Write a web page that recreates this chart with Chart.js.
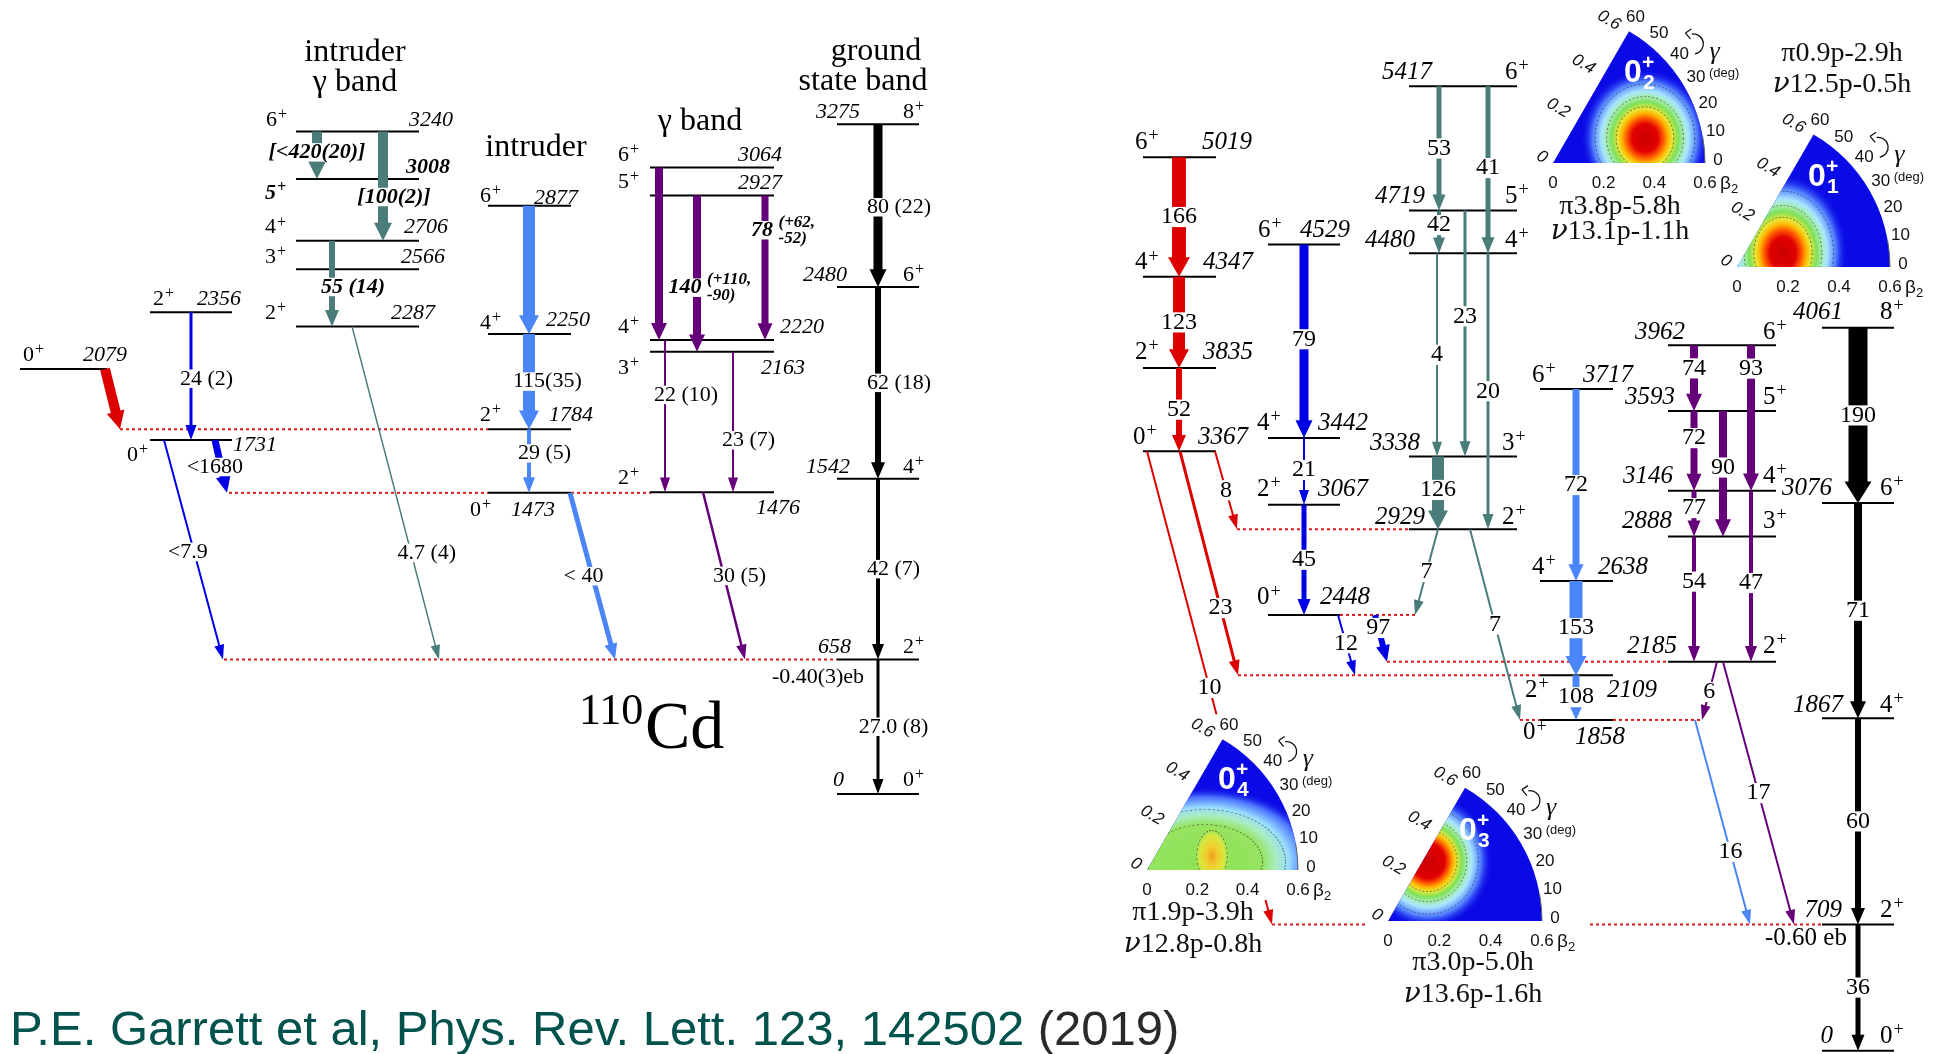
<!DOCTYPE html>
<html><head><meta charset="utf-8"><title>110Cd / 112Cd level schemes</title>
<script src="https://cdn.jsdelivr.net/npm/chart.js"></script>
<style>html,body{margin:0;padding:0;background:#fff;overflow:hidden}#c{display:block}</style>
</head><body>
<canvas id="c" width="1953" height="1054"></canvas>
<script>
// ================= DATA =================
// ---- 110Cd ----
const levelE110 = [2079,2356,1731,3240,3008,2706,2566,2287,2877,2250,1784,1473,3064,2927,2220,2163,1476,3275,2480,1542,658,0];
const levelJ110 = ['0+','2+','0+','6+','5+','4+','3+','2+','6+','4+','2+','0+','6+','5+','4+','3+','2+','8+','6+','4+','2+','0+'];
const levelBand110 = ['a','b','b','igb','igb','igb','igb','igb','int','int','int','int','gam','gam','gam','gam','gam','gsb','gsb','gsb','gsb','gsb'];
const from110 = [2079,2356,1731,1731,3240,3240,2706,2287,2877,2250,1784,1473,3064,2927,2927,2220,2163,1476,3275,2480,1542,658];
const to110   = [1784,1731,1473,658,3008,2706,2287,658,2250,1784,1473,658,2220,2163,2220,1476,1476,658,2480,1542,658,0];
const be2_110 = ['','24 (2)','<1680','<7.9','[<420(20)]','[100(2)]','55 (14)','4.7 (4)','','115(35)','29 (5)','< 40','','140 (+110,\n-90)','78 (+62,\n-52)','22 (10)','23 (7)','30 (5)','80 (22)','62 (18)','42 (7)','27.0 (8)'];
const dotE110 = [1784,1473,1473,658];
const qMom110 = '-0.40(3)eb';
const titles110 = ['intruder','γ band','intruder','γ band','ground','state band'];
const nucleus110 = ['110','Cd'];
// ---- 112Cd ----
const levelE112 = [5019,4347,3835,3367,4529,3442,3067,2448,5417,4719,4480,3338,2929,3717,2638,2109,1858,3962,3593,3146,2888,2185,4061,3076,1867,709,0];
const levelJ112 = ['6+','4+','2+','0+','6+','4+','2+','0+','6+','5+','4+','3+','2+','6+','4+','2+','0+','6+','5+','4+','3+','2+','8+','6+','4+','2+','0+'];
const levelBand112 = ['r','r','r','r','b','b','b','b','t','t','t','t','t','lb','lb','lb','lb','p','p','p','p','p','k','k','k','k','k'];
const from112 = [5019,4347,3835,3367,3367,3367,4529,3442,3067,2448,2448,5417,5417,4719,4719,4480,4480,3338,2929,2929,3717,2638,2109,1858,3962,3962,3593,3593,3146,2888,3146,2185,2185,4061,3076,1867,709];
const to112   = [4347,3835,3367,2929,2109,709,3442,3067,2448,2109,2185,4719,4480,4480,3338,3338,2929,2929,2448,1858,2638,2109,1858,709,3593,3146,3146,2888,2888,2185,2185,1858,709,3076,1867,709,0];
const be2_112 = ['166','123','52','8','23','10','79','21','45','12','97','53','41','42','23','4','20','126','7','7','72','153','108','16','74','93','72','90','77','54','47','6','17','190','71','60','36'];
const dotE112 = [2929,2448,2185,2109,1858,1858,709];
const qMom112 = '-0.60 eb';
// ---- potential energy surfaces ----
const pesStates = ['2','1','4','3'];
const pesConfig = [['π3.8p-5.8h','ν13.1p-1.1h'],['π0.9p-2.9h','ν12.5p-0.5h'],['π1.9p-3.9h','ν12.8p-0.8h'],['π3.0p-5.0h','ν13.6p-1.6h']];
const betaTicks = ['0','0.2','0.4','0.6'];
const gammaTicks = ['0','10','20','30','40','50','60'];
const citation = ['P.E. Garrett et al, Phys. Rev. Lett. 123, 142502 ','(2019)'];

// ================= LAYOUT & STYLE =================
const COL = {red:'#dd0000', blue:'#0000e6', lb:'#4a86f7', teal:'#4a7c7a', pur:'#66007a', k:'#000000'};
const DOT = '#e0191c';
const SERIF = '"Liberation Serif", "Times New Roman", serif';
const SANS = '"Liberation Sans", Arial, sans-serif';
const cols110 = {a:[20,107], b:[150,232], igb:[296,419], int:[488,571], gam:[650,774], gsb:[837,919]};
const cols112 = {r:[1143,1216], b:[1268,1340], t:[1409,1517], lb:[1540,1613], p:[1668,1776], k:[1822,1894]};
// [spin dx, spin dy, energy dx, energy dy, energy align, bold] relative to column start / level
const levLay110 = [[3,-14,107,-14,'R'],[3,-13,91,-13,'R'],[-23,15,83,5,'L'],[-30,-11,157,-11,'R'],[-31,14,154,-12,'R',1],[-31,-13,152,-13,'R'],[-31,-12,149,-12,'R'],[-31,-13,139,-13,'R'],
 [-8,-10,90,-8,'R'],[-8,-11,102,-14,'R'],[-8,-14,105,-14,'R'],[-18,17,67,17,'R'],
 [-32,-12,132,-12,'R'],[-32,-13,132,-12,'R'],[-32,-13,130,-13,'L'],[-32,16,155,16,'R'],[-32,-14,150,16,'R'],
 [66,-12,23,-12,'R'],[66,-12,10,-12,'R'],[66,-12,13,-12,'R'],[66,-12,14,-12,'R'],[66,-14,7,-14,'R']];
const levLay112 = [[-8,-15,109,-15,'R'],[-8,-14,110,-14,'R'],[-8,-16,110,-16,'R'],[-10,-14,105,-14,'R'],
 [-10,-14,82,-14,'R'],[-11,-15,100,-15,'R'],[-11,-15,100,-15,'R'],[-11,-17,102,-17,'R'],
 [96,-14,23,-14,'R'],[96,-14,16,-14,'R'],[96,-13,6,-13,'R'],[93,-13,11,-13,'R'],[93,-12,16,-12,'R'],
 [-8,-14,93,-14,'R'],[-8,-14,108,-14,'R'],[-15,15,117,15,'R'],[-17,13,85,17,'R'],
 [95,-13,17,-13,'R'],[95,-14,7,-14,'R'],[95,-14,5,-14,'R'],[95,-15,4,-15,'R'],[95,-15,9,-15,'R'],
 [58,-15,21,-15,'R'],[58,-15,10,-15,'R'],[58,-13,21,-13,'R'],[58,-14,20,-14,'R'],[58,-14,11,-14,'R']];
const trLay110 = [
 {x0:105,x1:120,w:10,c:'red'},{x0:191,w:3,c:'blue',t:.52},{x0:215,x1:227,w:7,c:'blue',t:.51},{x0:164,x1:223,w:2,c:'blue',t:.51},
 {x0:317,w:10,c:'teal',t:.44,bold:1},{x0:383,w:10,c:'teal',t:.6,bold:1,dx:11},{x0:332,w:6,c:'teal',t:.54,bold:1},{x0:352,x1:439,w:1.5,c:'teal',t:.68},
 {x0:529,w:12,c:'lb'},{x0:529,w:12,c:'lb',t:.5},{x0:529,w:4,c:'lb',t:.38},{x0:570,x1:615,w:5,c:'lb',t:.5},
 {x0:659,w:8,c:'pur'},{x0:697,w:8,c:'pur',t:.59,bold:1,dx:-12,small:1},{x0:765,w:7,c:'pur',t:.24,bold:1,dx:-3,small:1},
 {x0:665,w:2,c:'pur',t:.36},{x0:733,w:2,c:'pur',t:.63},{x0:703,x1:745,w:2.5,c:'pur',t:.5},
 {x0:878,w:9,c:'k',t:.51},{x0:878,w:6,c:'k',t:.5},{x0:878,w:4,c:'k',t:.5},{x0:878,w:3,c:'k',t:.5}];
const trLay112 = [
 {x0:1179,w:14,c:'red',t:.5},{x0:1179,w:12,c:'red',t:.5},{x0:1179,w:6,c:'red',t:.5},
 {x0:1215,x1:1237,w:2,c:'red',t:.5},{x0:1180,x1:1238,w:3,c:'red',t:.7},{x0:1147,x1:1272,w:2,c:'red',t:.5},
 {x0:1304,w:9,c:'blue',t:.49},{x0:1304,w:2,c:'blue',t:.48},{x0:1304,w:5,c:'blue',t:.5},
 {x0:1338,x1:1355,w:2,c:'blue',t:.47},{x0:1375,x1:1387,w:6,c:'blue',t:.28},
 {x0:1439,w:5,c:'teal',t:.5},{x0:1488,w:5,c:'teal',t:.49},{x0:1439,w:4,c:'teal',t:.34},{x0:1465,w:3,c:'teal',t:.43},
 {x0:1437,w:2,c:'teal',t:.5},{x0:1488,w:3,c:'teal',t:.5},{x0:1438,w:12,c:'teal',t:.46},
 {x0:1438,x1:1415,w:2,c:'teal',t:.5},{x0:1470,x1:1520,w:2,c:'teal',t:.5},
 {x0:1576,w:7,c:'lb',t:.5},{x0:1576,w:13,c:'lb',t:.5},{x0:1576,w:7,c:'lb',t:.49},{x0:1695,x1:1750,w:2,c:'lb',t:.645},
 {x0:1694,w:8,c:'pur',t:.35},{x0:1751,w:8,c:'pur',t:.16},{x0:1694,w:7,c:'pur',t:.34},{x0:1723,w:8,c:'pur',t:.45},
 {x0:1694,w:5,c:'pur',t:.38},{x0:1694,w:4,c:'pur',t:.36},{x0:1751,w:4,c:'pur',t:.54},
 {x0:1717,x1:1702,w:2,c:'pur',t:.52},{x0:1723,x1:1794,w:2,c:'pur',t:.5},
 {x0:1858,w:19,c:'k',t:.5},{x0:1858,w:8,c:'k',t:.5},{x0:1858,w:6,c:'k',t:.5},{x0:1858,w:5,c:'k',t:.5}];
const dotLay110 = [[120,488],[229,488],[571,651],[224,837]];
const dotLay112 = [[1237,1410],[1340,1415],[1387,1668],[1238,1540],[1520,1540],[1613,1702],[1272,1822]];
const titleLay = [[355,53],[355,83],[536,148],[700,122],[876,52],[863,82]];
const STOPS = {
 hot:[[0,'#cc0000'],[0.2,'#e00000'],[0.29,'#ff5a00'],[0.36,'#ffb400'],[0.43,'#e8e838'],[0.52,'#7ee05a'],[0.6,'#a6eeb0'],[0.68,'#a8e6ff'],[0.82,'#4f7cff'],[1,'rgba(10,10,230,0)']],
 hot3:[[0,'#cc0000'],[0.26,'#e00000'],[0.33,'#ff5a00'],[0.39,'#ffb400'],[0.45,'#e8e838'],[0.53,'#7ee05a'],[0.6,'#a6eeb0'],[0.68,'#a8e6ff'],[0.82,'#4f7cff'],[1,'rgba(10,10,230,0)']],
 cyan:[[0,'#b4f2ff'],[0.5,'#8cd4ff'],[1,'rgba(10,10,230,0)']],
 green:[[0,'#8ee055'],[0.5,'#96e460'],[0.62,'#a8ecc0'],[0.73,'#98dcff'],[0.87,'#4a70ff'],[1,'rgba(10,10,230,0)']],
 yellow:[[0,'#f2a020'],[0.35,'#f2d030'],[0.7,'#d6e840'],[1,'rgba(150,228,96,0)']]
};
const pesLay = [
 {ax:1553, ay:163, R:152, cfg:[1620,207,232], blobs:[{x:92,y:-25,r:64,sx:1,sy:1.08,s:'hot',c:[0.45,0.6,0.78]}]},
 {ax:1737, ay:267, R:153, cfg:[1842,54,85], blobs:[{x:14,y:-6,r:48,sx:1,sy:1,s:'cyan'},{x:46,y:-14,r:72,sx:0.9,sy:1.1,s:'hot',c:[0.45,0.6,0.78]}]},
 {ax:1147, ay:870, R:151, cfg:[1193,913,945], blobs:[{x:58,y:-8,r:100,sx:1.15,sy:0.75,s:'green',c:[0.5,0.7]},{x:65,y:-14,r:24,sx:0.75,sy:1.25,s:'yellow',c:[0.85]}]},
 {ax:1388, ay:921, R:154, cfg:[1473,963,995], blobs:[{x:40,y:-60,r:68,sx:0.95,sy:1,s:'hot3',c:[0.45,0.6,0.78]}]}
];

// ================= DATASETS =================
function levelSets(E, band, cols, axis){
  return E.map((e,i)=>({data:[{x:cols[band[i]][0],y:e},{x:cols[band[i]][1],y:e}], yAxisID:axis,
    showLine:true, borderColor:'#000', borderWidth:2, pointRadius:0, clip:false}));
}
function dotSets(E, lay, axis){
  return E.map((e,i)=>({data:[{x:lay[i][0],y:e},{x:lay[i][1],y:e}], yAxisID:axis,
    showLine:true, borderColor:DOT, borderWidth:2, borderDash:[3,3], pointRadius:0, clip:false}));
}
const datasets = [].concat(levelSets(levelE110, levelBand110, cols110, 'yL'), levelSets(levelE112, levelBand112, cols112, 'yR'),
  dotSets(dotE110, dotLay110, 'yL'), dotSets(dotE112, dotLay112, 'yR'));

// ================= DRAW HELPERS =================
function arrow(ctx,x0,y0,x1,y1,w,color){
  const dx=x1-x0, dy=y1-y0, L=Math.hypot(dx,dy), ux=dx/L, uy=dy/L, nx=-uy, ny=ux;
  const hw = w + Math.max(8, w*0.4), hl = Math.min(14 + w*0.4, L*0.8);
  const bx=x1-ux*hl, by=y1-uy*hl, h=w/2, H=hw/2;
  ctx.beginPath();
  ctx.moveTo(x0+nx*h,y0+ny*h); ctx.lineTo(bx+nx*h,by+ny*h); ctx.lineTo(bx+nx*H,by+ny*H); ctx.lineTo(x1,y1);
  ctx.lineTo(bx-nx*H,by-ny*H); ctx.lineTo(bx-nx*h,by-ny*h); ctx.lineTo(x0-nx*h,y0-ny*h); ctx.closePath();
  ctx.fillStyle=color; ctx.fill();
}
function bgText(ctx, txt, x, cy, size, align){
  const w = ctx.measureText(txt).width;
  let left = align==='center'? x-w/2 : align==='right'? x-w : x;
  ctx.fillStyle='#fff'; ctx.fillRect(left-1, cy-size*0.42, w+2, size*0.84);
  ctx.fillStyle='#000'; ctx.textAlign=align; ctx.fillText(txt, x, cy);
  return w;
}
function transLabel(ctx, label, cx, cy, size, bold, small){
  const f = (bold?'bold italic ':'') + size + 'px ' + SERIF;
  ctx.font = f; ctx.textBaseline='middle';
  const m = label.match(/^(<\s*)?(\d+(?:\.\d+)?)([\s\S]*)$/);
  if(!m){ bgText(ctx, label, cx, cy, size, 'center'); return; }
  const pre=m[1]||'', main=m[2], suf=m[3];
  const wm = ctx.measureText(main).width, left = cx - wm/2;
  if(pre) bgText(ctx, pre, left, cy, size, 'right');
  bgText(ctx, main, left, cy, size, 'left');
  if(suf.trim()){
    const gap = suf.startsWith(' ') ? ctx.measureText(' ').width : 0;
    const ss = small ? Math.round(size*0.78) : size;
    ctx.font = (bold?'bold italic ':'') + ss + 'px ' + SERIF;
    const lines = suf.trim().split('\n'), lh = ss*0.95;
    lines.forEach((ln,i)=>{ bgText(ctx, ln, left+wm+gap, cy + (i-(lines.length-1)/2)*lh, ss, 'left'); });
  }
}
function drawSpin(ctx, s, x, y, size, bold){
  const base=s.slice(0,-1), sup=s.slice(-1);
  ctx.font=(bold?'bold italic ':'')+size+'px '+SERIF; ctx.textAlign='left'; ctx.textBaseline='middle'; ctx.fillStyle='#000';
  ctx.fillText(base,x,y); const w=ctx.measureText(base).width;
  ctx.font=(bold?'bold italic ':'')+Math.round(size*0.72)+'px '+SERIF;
  ctx.fillText(sup, x+w+1, y-size*0.24);
}
function drawScheme(ctx, X, Y, from, to, lab, lay, size){
  from.forEach((f,i)=>{ const L=lay[i]; const x1 = L.x1===undefined? L.x0 : L.x1;
    arrow(ctx, X(L.x0), Y(f), X(x1), Y(to[i]), L.w, COL[L.c]); });
  from.forEach((f,i)=>{ const L=lay[i]; if(!lab[i]) return; const x1 = L.x1===undefined? L.x0 : L.x1;
    const t=L.t, cx = X(L.x0)+(X(x1)-X(L.x0))*t + (L.dx||0), cy = Y(f)+(Y(to[i])-Y(f))*t;
    transLabel(ctx, lab[i], cx, cy, size, L.bold, L.small); });
}
function drawLevelLabels(ctx, X, Y, E, J, band, cols, lay, size){
  E.forEach((e,i)=>{ const [sdx,sdy,edx,edy,al,bold]=lay[i]; const x0=X(cols[band[i]][0]), y=Y(e);
    drawSpin(ctx, J[i], x0+sdx, y+sdy, size, bold);
    ctx.font=(bold?'bold italic ':'italic ')+size+'px '+SERIF; ctx.textAlign= al==='R'?'right':'left';
    ctx.textBaseline='middle'; ctx.fillStyle='#000'; ctx.fillText(String(e), x0+edx, y+edy); });
}
function pesBackground(ctx, p){
  const {ax,ay,R}=p, H=R*Math.sin(Math.PI/3);
  ctx.fillStyle='#fff'; ctx.fillRect(ax-22, ay-H-25, R+67, H+55);
}
function configLine(ctx, s, cx, y){
  const g=s[0], rest=s.slice(1);
  const gf = g==='ν' ? 'italic 28px "DejaVu Serif", '+SERIF : '28px '+SERIF;
  ctx.font=gf; const wg=ctx.measureText(g).width;
  ctx.font='28px '+SERIF; const wr=ctx.measureText(rest).width;
  const left=cx-(wg+wr)/2;
  ctx.textAlign='left'; ctx.font=gf; ctx.fillText(g,left,y);
  ctx.font='28px '+SERIF; ctx.fillText(rest,left+wg,y);
}
function drawPES(ctx, p, n, cfg){
  const {ax,ay,R}=p;
  ctx.save();
  const path=new Path2D(); path.moveTo(ax,ay); path.lineTo(ax+R,ay); path.arc(ax,ay,R,0,-Math.PI/3,true); path.closePath();
  ctx.fillStyle='#0a0ae6'; ctx.fill(path);
  ctx.save(); ctx.clip(path);
  p.blobs.forEach(b=>{ ctx.save(); ctx.translate(ax+b.x, ay+b.y); ctx.scale(b.sx,b.sy);
    const g=ctx.createRadialGradient(0,0,0,0,0,b.r); STOPS[b.s].forEach(([o,c])=>g.addColorStop(o,c));
    ctx.fillStyle=g; ctx.beginPath(); ctx.arc(0,0,b.r,0,Math.PI*2); ctx.fill();
    if(b.c){ ctx.setLineDash([2,2]); ctx.lineWidth=0.9; ctx.strokeStyle='rgba(40,40,40,0.65)';
      b.c.forEach(k=>{ ctx.beginPath(); ctx.arc(0,0,b.r*k,0,Math.PI*2); ctx.stroke(); }); ctx.setLineDash([]); }
    ctx.restore(); });
  ctx.restore();
  ctx.strokeStyle='#666'; ctx.lineWidth=1; ctx.beginPath(); ctx.arc(ax,ay,R,0,-Math.PI/18,true); ctx.stroke();
  ctx.fillStyle='#111'; ctx.font='17px '+SANS; ctx.textBaseline='middle'; ctx.textAlign='center';
  betaTicks.forEach((s,k)=>ctx.fillText(s, ax+R*k/3, ay+20));
  ctx.textAlign='left'; ctx.font='19px '+SANS; ctx.fillText('β', ax+R+15, ay+21);
  ctx.font='13px '+SANS; ctx.fillText('2', ax+R+26, ay+26);
  ctx.font='italic 17px '+SANS; ctx.textAlign='center';
  betaTicks.forEach((s,k)=>{ const d=R*k/3; const px=ax+d/2-(k?20:11), py=ay-0.866*d-(k?11:6);
    ctx.save(); ctx.translate(px,py); ctx.rotate(Math.PI/6); ctx.fillText(s,0,0); ctx.restore(); });
  ctx.font='17px '+SANS; ctx.textAlign='center';
  const gp = gammaTicks.map((s,i)=>{ const a=i*Math.PI/18; const x=ax+(R+13)*Math.cos(a), y=ay-(R+13)*Math.sin(a)-3; ctx.fillText(s,x,y); return [x,y]; });
  ctx.font='13px '+SANS; ctx.textAlign='left'; ctx.fillText('(deg)', gp[3][0]+13, gp[3][1]-4);
  const cx=gp[4][0]+14, cy=gp[4][1]-10;
  ctx.strokeStyle='#111'; ctx.lineWidth=1.3; ctx.beginPath(); ctx.arc(cx,cy,10,-Math.PI*0.55,Math.PI*0.45); ctx.stroke();
  ctx.beginPath(); ctx.moveTo(cx-8,cy-11); ctx.lineTo(cx-2,cy-15); ctx.moveTo(cx-8,cy-11); ctx.lineTo(cx-3,cy-5); ctx.stroke();
  ctx.font='italic 26px '+SERIF; ctx.fillStyle='#111'; ctx.fillText('γ', gp[4][0]+30, gp[4][1]-2);
  ctx.fillStyle='#fff'; ctx.font='bold 32px '+SANS; ctx.textAlign='center'; ctx.fillText('0', ax+80, ay-90);
  ctx.font='bold 21px '+SANS; ctx.textAlign='left'; ctx.fillText('+', ax+89, ay-100); ctx.fillText(n, ax+90, ay-80);
  ctx.fillStyle='#111';
  configLine(ctx, cfg[0], p.cfg[0], p.cfg[1]); configLine(ctx, cfg[1], p.cfg[0], p.cfg[2]);
  ctx.restore();
}

const schemePlugin = {
  id:'scheme',
  afterDatasetsDraw(chart){
    const ctx=chart.ctx, sx=chart.scales.x, yl=chart.scales.yL, yr=chart.scales.yR;
    const X=v=>sx.getPixelForValue(v), YL=e=>yl.getPixelForValue(e), YR=e=>yr.getPixelForValue(e);
    ctx.save();
    drawScheme(ctx, X, YL, from110, to110, be2_110, trLay110, 22);
    drawScheme(ctx, X, YR, from112, to112, be2_112, trLay112, 24);
    drawLevelLabels(ctx, X, YL, levelE110, levelJ110, levelBand110, cols110, levLay110, 22);
    drawLevelLabels(ctx, X, YR, levelE112, levelJ112, levelBand112, cols112, levLay112, 25);
    ctx.fillStyle='#000'; ctx.textAlign='center'; ctx.textBaseline='middle';
    ctx.font='22px '+SERIF; ctx.fillText(qMom110, X(818), YL(658)+18);
    ctx.font='25px '+SERIF; ctx.fillText(qMom112, X(1806), YR(709)+14);
    ctx.font='32px '+SERIF;
    titles110.forEach((t,i)=>ctx.fillText(t, titleLay[i][0], titleLay[i][1]));
    ctx.textAlign='left'; ctx.textBaseline='alphabetic';
    ctx.font='44px '+SERIF; ctx.fillText(nucleus110[0], 579, 724);
    ctx.font='68px '+SERIF; ctx.fillText(nucleus110[1], 645, 748);
    pesLay.forEach(p=>pesBackground(ctx,p));
    pesLay.forEach((p,i)=>drawPES(ctx, p, pesStates[i], pesConfig[i]));
    ctx.font='49px '+SANS; ctx.textAlign='left'; ctx.textBaseline='alphabetic';
    ctx.fillStyle='#00524c'; ctx.fillText(citation[0], 10, 1045);
    const w=ctx.measureText(citation[0]).width;
    ctx.fillStyle='#2a2a2a'; ctx.fillText(citation[1], 10+w, 1045);
    ctx.restore();
  }
};

new Chart(document.getElementById('c'), {
  type:'scatter',
  data:{datasets},
  options:{
    responsive:false, animation:false, devicePixelRatio:1, events:[],
    layout:{padding:0},
    plugins:{legend:{display:false}, tooltip:{enabled:false}, title:{display:false}},
    scales:{
      x:{type:'linear', min:0, max:1953, display:false},
      yL:{type:'linear', axis:'y', min:-1271, max:3883, display:false},
      yR:{type:'linear', axis:'y', min:-18.5, max:5902, display:false}
    }
  },
  plugins:[schemePlugin]
});
</script>
</body></html>
